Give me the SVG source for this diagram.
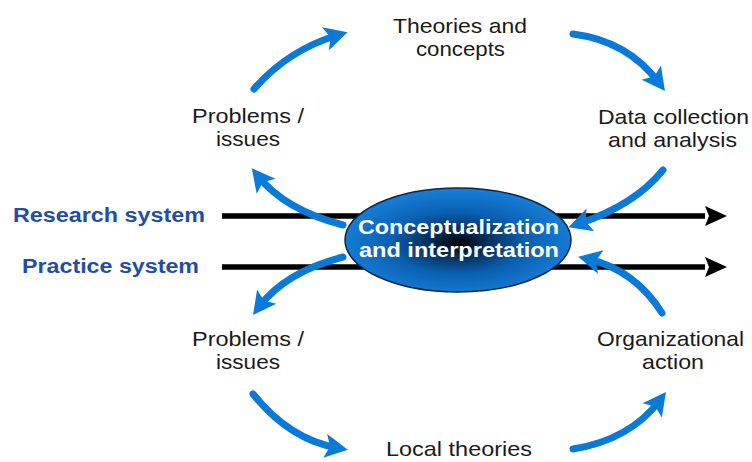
<svg xmlns="http://www.w3.org/2000/svg" width="752" height="462" viewBox="0 0 752 462">
  <defs>
    <radialGradient id="ellGrad" cx="0.5" cy="0.53" r="0.5" fx="0.5" fy="0.53">
      <stop offset="0" stop-color="#000000"/>
      <stop offset="0.22" stop-color="#05284f"/>
      <stop offset="0.6" stop-color="#0a60b2"/>
      <stop offset="1" stop-color="#157bd4"/>
    </radialGradient>
    <marker id="blueHead" markerUnits="userSpaceOnUse" markerWidth="40" markerHeight="40" viewBox="-20 -20 40 40" refX="0" refY="0" orient="auto" overflow="visible">
      <path d="M10,0 L-13,-12 L-8,0 L-13,12 Z" fill="#0a7ad8"/>
    </marker>
    <marker id="blackHead" markerUnits="userSpaceOnUse" markerWidth="40" markerHeight="40" viewBox="-20 -20 40 40" refX="0" refY="0" orient="auto" overflow="visible">
      <path d="M22,0 L0,-10 L4,0 L0,10 Z" fill="#000000"/>
    </marker>
  </defs>
  <style>
    .lbl { font-family: "Liberation Sans", Arial, sans-serif; font-size: 21px; fill: #1a1a1a; }
    .sys { font-family: "Liberation Sans", Arial, sans-serif; font-size: 20px; font-weight: bold; fill: #1f4ea3; }
    .ctr { font-family: "Liberation Sans", Arial, sans-serif; font-size: 21px; font-weight: bold; fill: #ffffff; }
    .sysline { stroke: #000000; stroke-width: 5.5; fill: none; marker-end: url(#blackHead); }
    .cyc { stroke: #0a7ad8; stroke-width: 7; fill: none; stroke-linecap: round; marker-end: url(#blueHead); }
  </style>

  <g id="connectors">
    <line class="sysline" x1="222" y1="216" x2="705" y2="216"/>
    <line class="sysline" x1="222" y1="267" x2="705" y2="267"/>
    <path class="cyc" d="M254,89 Q288,50 338,35"/>
    <path class="cyc" d="M573,34 Q628,41 659,83"/>
    <path class="cyc" d="M663,170 Q635,205 578,224"/>
    <path class="cyc" d="M662,313 Q635,270 588,259"/>
    <path class="cyc" d="M343,225 Q285,210 258,176"/>
    <path class="cyc" d="M343,257 Q285,272 259,307"/>
    <path class="cyc" d="M253,394 Q290,440 338,448"/>
    <path class="cyc" d="M573,449 Q630,440 660,400"/>
  </g>

  <g id="research-system">
    <text class="sys" x="13" y="222" textLength="192" lengthAdjust="spacingAndGlyphs">Research system</text>
  </g>
  <g id="practice-system">
    <text class="sys" x="22" y="273" textLength="177" lengthAdjust="spacingAndGlyphs">Practice system</text>
  </g>

  <g id="center">
    <ellipse cx="458" cy="240" rx="113" ry="52" fill="url(#ellGrad)" stroke="#0b2748" stroke-width="1.5"/>
    <text class="ctr" x="358" y="234" textLength="201" lengthAdjust="spacingAndGlyphs">Conceptualization</text>
    <text class="ctr" x="359" y="257" textLength="200" lengthAdjust="spacingAndGlyphs">and interpretation</text>
  </g>

  <g id="theories">
    <text class="lbl" x="393" y="33" textLength="134" lengthAdjust="spacingAndGlyphs">Theories and</text>
    <text class="lbl" x="416" y="56" textLength="89" lengthAdjust="spacingAndGlyphs">concepts</text>
  </g>
  <g id="data">
    <text class="lbl" x="598" y="124" textLength="151" lengthAdjust="spacingAndGlyphs">Data collection</text>
    <text class="lbl" x="608" y="147" textLength="129" lengthAdjust="spacingAndGlyphs">and analysis</text>
  </g>
  <g id="problems-top">
    <text class="lbl" x="192" y="123" textLength="112" lengthAdjust="spacingAndGlyphs">Problems /</text>
    <text class="lbl" x="216" y="146" textLength="64" lengthAdjust="spacingAndGlyphs">issues</text>
  </g>
  <g id="problems-bottom">
    <text class="lbl" x="192" y="346" textLength="112" lengthAdjust="spacingAndGlyphs">Problems /</text>
    <text class="lbl" x="216" y="369" textLength="64" lengthAdjust="spacingAndGlyphs">issues</text>
  </g>
  <g id="organizational">
    <text class="lbl" x="597" y="346" textLength="147" lengthAdjust="spacingAndGlyphs">Organizational</text>
    <text class="lbl" x="642" y="369" textLength="62" lengthAdjust="spacingAndGlyphs">action</text>
  </g>
  <g id="local">
    <text class="lbl" x="386" y="456" textLength="146" lengthAdjust="spacingAndGlyphs">Local theories</text>
  </g>
</svg>
